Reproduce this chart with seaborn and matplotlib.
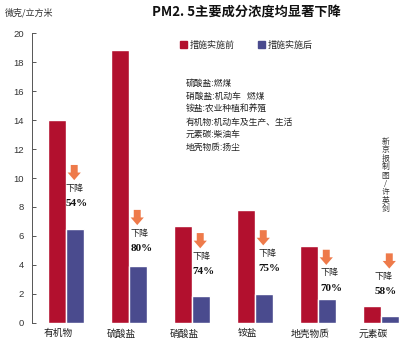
import matplotlib
matplotlib.use("Agg")
import matplotlib.pyplot as plt
import seaborn as sns
import pandas as pd
import numpy as np

categories = ["有机物", "硫酸盐", "硝酸盐", "铵盐", "地壳物质", "元素碳"]
before = [14.0, 18.8, 6.7, 7.8, 5.3, 1.15]
after = [6.45, 3.9, 1.85, 2.0, 1.65, 0.5]
drops = ["54%", "80%", "74%", "75%", "70%", "58%"]
series = ["措施实施前", "措施实施后"]
yticks = [0, 2, 4, 6, 8, 10, 12, 14, 16, 18, 20]
sources = [("硫酸盐", "燃煤"), ("硝酸盐", "机动车   燃煤"), ("铵盐", "农业种植和养殖"),
           ("有机物", "机动车及生产、生活"), ("元素碳", "柴油车"), ("地壳物质", "扬尘")]
title = "PM2. 5主要成分浓度均显著下降"
unit = "微克/立方米"
credit = "新京报制图/许英剑"

# annotation layout: arrow top heights and label x offsets
arrow_top = [10.9, 7.8, 6.2, 6.4, 5.05, 4.8]
label_dx = [-0.01, 0.03, 0.01, 0.05, 0.04, -0.1]

sns.set_theme(style="white")
plt.rcParams["font.family"] = ["Noto Sans CJK SC", "DejaVu Sans"]

df = pd.DataFrame({
    "cat": categories * 2,
    "period": [series[0]] * len(categories) + [series[1]] * len(categories),
    "val": before + after,
})

red = "#B2102E"
blue = "#4A4B8E"
fig = plt.figure(figsize=(4.0, 3.41), dpi=100)
ax = fig.add_axes([0.08, 0.053, 0.92, 0.85])
sns.barplot(data=df, x="cat", y="val", hue="period", palette=[red, blue],
            width=0.58, saturation=1, ax=ax, legend=False, gap=0)

ax.set_xlim(-0.54, 5.30)
ax.set_ylim(0, 20)
ax.set_yticks(yticks)
ax.set_yticklabels([str(t) for t in yticks], fontsize=6.8, color="#333333",
                   family=["Liberation Sans", "DejaVu Sans"])
ax.set_xticks(np.arange(len(categories)) - 0.12)
ax.set_xticklabels(categories, fontsize=7, color="#222222")
ax.set_xlabel("")
ax.set_ylabel("")
for s in ["top", "right", "bottom"]:
    ax.spines[s].set_visible(False)
ax.spines["left"].set_color("#555555")
ax.spines["left"].set_linewidth(0.7)
ax.tick_params(axis="y", direction="in", length=3, width=0.7, color="#555555", pad=6, left=True)
ax.tick_params(axis="x", length=0, pad=4)

# arrows and drop labels
for i, (top, d, dx) in enumerate(zip(arrow_top, drops, label_dx)):
    ax.annotate("", xy=(i + 0.13, top - 1.05), xytext=(i + 0.13, top),
                arrowprops=dict(arrowstyle="simple,head_width=0.95,head_length=0.55,tail_width=0.5",
                                fc="#EE7A4A", ec="none", shrinkA=0, shrinkB=0,
                                mutation_scale=10))
    ax.text(i + dx, top - 1.6, "下降", fontsize=6.5, ha="left", va="center", color="#222222")
    ax.text(i + dx, top - 2.65, d, fontsize=8, ha="left", va="center", fontweight="bold",
            family=["Liberation Serif", "DejaVu Serif"], color="#111111")

# title and unit
fig.text(0.617, 0.962, title, ha="center", va="center", fontsize=9.5, fontweight="bold",
         family=["Noto Sans CJK SC", "DejaVu Sans"], color="#111111")
fig.text(0.012, 0.962, unit, ha="left", va="center", fontsize=6.5, color="#333333")

# legend
from matplotlib.patches import Patch
handles = [Patch(color=red, label=series[0]), Patch(color=blue, label=series[1])]
fig.legend(handles=handles, loc="center left", bbox_to_anchor=(0.44, 0.868), ncol=2,
           frameon=False, fontsize=6.5, handlelength=0.8, handleheight=0.8,
           handletextpad=0.3, columnspacing=2.6, borderaxespad=0)

# source notes
y0 = 0.755
for k, (name, src) in enumerate(sources):
    fig.text(0.465, y0 - k * 0.0375, name + ":" + src, ha="left", va="center",
             fontsize=6.3, color="#222222")

# credit vertical text, one character per line
cy0 = 1 - 142 / 341
step = 8.4 / 341
for k, ch in enumerate(credit):
    fig.text(0.963, cy0 - k * step, ch, ha="center", va="center", fontsize=5.6,
             color="#333333")

fig.savefig("out.png", dpi=100)
